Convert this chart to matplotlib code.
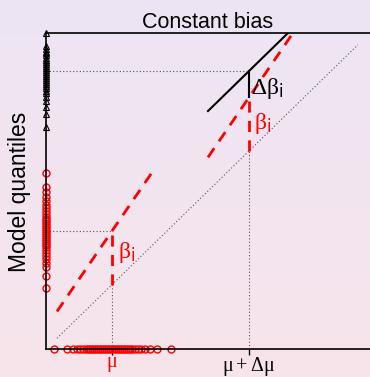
import numpy as np
import matplotlib
matplotlib.use('Agg')
from matplotlib import pyplot as plt

plt.rcParams['font.family'] = ['Liberation Sans', 'DejaVu Sans']
plt.rcParams['mathtext.fontset'] = 'custom'
plt.rcParams['mathtext.rm'] = 'Liberation Serif'
plt.rcParams['mathtext.it'] = 'Liberation Serif'
plt.rcParams['mathtext.bf'] = 'Liberation Serif:bold'

obs_x = [8, 21, 27, 31, 34, 37, 40, 42, 44, 46, 48, 50, 52, 54, 56, 58, 60, 62, 64, 66,
         68, 70, 72, 74, 76, 78, 80, 82, 84, 86, 89, 92, 95, 99, 104, 111, 125]
mod_y = [180, 166, 161, 156, 152, 148, 145, 142, 138, 135, 133, 131, 129, 127, 125, 123, 121,
         119, 117, 115, 113, 111, 109, 107, 105, 102, 98, 95, 92, 88, 84, 75, 63]
fut_y = [324, 311, 308, 305, 303, 301, 298, 296, 294, 292, 290, 288, 286, 284, 282, 280, 278,
         276, 274, 272, 270, 268, 265, 262, 258, 254, 248, 241, 228]

mu = 66
d_mu = 137
beta = 55
d_beta = 27
slope = 1.5
diag = [11, 312]
red1_x = [11, 108]
red2_x = [162, 245]
black_x = [162, 243]

fig = plt.figure(figsize=(3.7, 3.77), dpi=100)

# background gradient
bg = fig.add_axes([0, 0, 1, 1])
grad = np.linspace(0, 1, 256).reshape(-1, 1)
top = np.array([237, 229, 244]) / 255
bot = np.array([248, 228, 235]) / 255
img = top + (bot - top) * grad[:, :, None]
bg.imshow(img, aspect='auto', extent=[0, 1, 0, 1])
bg.axis('off')

ax = fig.add_axes([46/370, 28/377, 330/370, 316/377])
ax.patch.set_alpha(0)
ax.set_xlim(0, 330)
ax.set_ylim(0, 324)

dot = dict(color='#555555', lw=0.8, ls=(0, (1, 2)))
red = dict(color='red', lw=2, ls=(0, (4, 3)))

# identity line
ax.plot(diag, diag, **dot)

# model lines
x1 = np.array(red1_x)
ax.plot(x1, mu + beta + slope * (x1 - mu), **red)
x2 = np.array(red2_x)
m2 = mu + d_mu
ax.plot(x2, m2 + beta + slope * (x2 - m2), **red)
x3 = np.array(black_x)
ax.plot(x3, x3 + beta + d_beta, color='black', lw=1.5)

# guides
ax.plot([mu, mu], [0, mu], **dot)
ax.plot([0, mu], [mu + beta, mu + beta], **dot)
ax.plot([m2, m2], [0, m2], **dot)
ax.plot([0, m2], [m2 + beta + d_beta, m2 + beta + d_beta], **dot)
ax.plot([mu, mu], [mu, mu + beta], **red)
ax.plot([m2, m2], [m2, m2 + beta], **red)
ax.plot([m2, m2], [m2 + beta, m2 + beta + d_beta], color='black', lw=1.5)

ax.text(mu + 6, 99, r'$\beta_\mathsf{i}$', color='red', fontsize=17, ha='left', va='center')
ax.text(m2 + 5, 231, r'$\beta_\mathsf{i}$', color='red', fontsize=17, ha='left', va='center')
ax.text(m2 + 2, 267, r'$\Delta\beta_\mathsf{i}$', color='black', fontsize=17, ha='left', va='center')

# rug points
ax.plot(obs_x, [0] * len(obs_x), 'o', mfc='none', mec='red', ms=5, mew=1, clip_on=False)
ax.plot([0] * len(mod_y), mod_y, 'o', mfc='none', mec='red', ms=5, mew=1, clip_on=False)
ax.plot([0] * len(fut_y), fut_y, '^', mfc='none', mec='black', ms=5, mew=0.8, clip_on=False)

ax.set_xticks([mu, m2])
ax.set_xticklabels([r'$\mu$', r'$\mu + \Delta\mu$'], fontsize=14.5)
ax.get_xticklabels()[0].set_color('red')
ax.tick_params(axis='x', length=4, width=1, pad=0)
ax.set_yticks([])
ax.spines['right'].set_visible(False)
for s in ['left', 'bottom', 'top']:
    ax.spines[s].set_linewidth(1.2)

ax.set_title('Constant bias', fontsize=15.5, x=0.49, pad=3)
fig.text(20/370, 1 - 192/377, 'Model quantiles', rotation=90, fontsize=16.5,
         ha='center', va='center')

plt.savefig('out.png', dpi=100)
